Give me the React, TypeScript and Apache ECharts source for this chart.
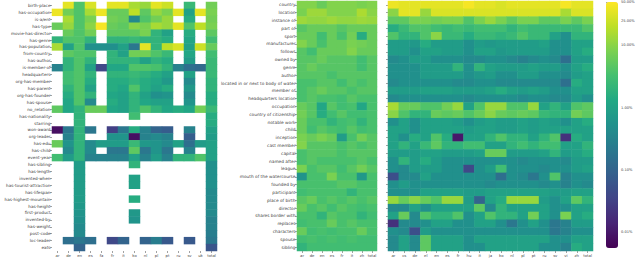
import React, { useEffect, useRef } from "react";
import * as echarts from "echarts";

// ---------- left heatmap ----------
const leftCols = ["ar","de","en","es","fa","fr","it","ko","nl","pl","pt","ru","sv","uk","total"];
const leftRows = ["birth-place","has-occupation","is-a/ent","has-type","movie-has-director","has-genre","has-population","from-country","has-author","is-member-of","headquarters","org-has-member","has-parent","org-has-founder","has-spouse","no_relation","has-nationality","starring","won-award","org-leader","has-edu","has-child","event-year","has-sibling","has-length","invented-when","has-tourist-attraction","has-lifespan","has-highest-mountain","has-height","first-product","invented-by","has-weight","post-code","loc-leader","eats"];
const _ = null;
const leftValues: (number | null)[][] = [
  [_, 35, 4, 30, _, 35, 35, 15, 12, 35, 25, _, 2.5, _, 7],
  [40, 7, 4, 15, 40, 6, 6, 20, 5, 12, 8, 35, 1, 35, 8],
  [_, 15, 4, 8, _, 7, 6, 0.4, 4, 7, 12, _, 1.5, _, 7],
  [6, 12, 4, 10, 45, 6, 5, 10, 8, 15, 12, 35, 4, 20, 8],
  [_, 6, 4, 7, _, 5, 5, 5, 8, 2, 1, _, 1.5, _, 5],
  [2, 4, 4, 2, _, 2, 2, 2.5, 2, 2, 1.5, _, 1.2, _, 3],
  [15, 1, 4, 0.5, 0.5, 0.5, 1, 0.2, 35, 2, 20, 30, 1, 25, 6],
  [_, 5, 4, 4, _, 2, 1, 7, 7, 4, 2.5, _, 1.2, _, 3],
  [_, 2, 4, 2, _, 2, 2, 2, 1, 2, 1.5, _, 0.8, _, 2.5],
  [0.3, 2, 4, 1, 0.04, 1.2, 1.2, 4, 4, 3.5, 2, 0.3, 0.15, 0.12, 2.5],
  [_, 3, 4, 2, _, 2, 2, 2.5, 2, 1.5, 1, _, 1, _, 2.5],
  [_, 3, 4, 1.5, _, 1.5, 1.5, 2, 1.5, 1.2, 0.7, _, 0.4, _, 2],
  [_, 2, 4, 1, _, 1.5, 1.2, 4, 1.5, 1, 1.5, _, 0.7, _, 2],
  [_, 1.5, 4, 2, _, 1.2, 1, 2, 1, 0.5, 0.6, _, 0.4, _, 1.5],
  [_, 1.2, 4, 0.4, _, 1.5, 1, 2, 1.2, 1, 1, _, 0.6, _, 1.5],
  [5, 1.2, 2, 6, 6, 1.2, 1, 2, 4, 2, 1.2, 1.5, 1.2, 7, 2.5],
  [_, _, 2, _, _, _, _, 3, _, _, _, _, _, _, 1.5],
  [_, _, 2, _, _, _, _, _, _, _, _, _, _, _, 1.5],
  [0.008, 0.2, 2, 0.2, _, 0.03, 0.2, 1.5, 0.3, 0.1, 0.08, _, 0.3, _, 1],
  [_, 0.3, 2, _, _, 0.6, 0.6, 0.008, 0.3, 0.4, 0.3, _, 0.08, _, 0.8],
  [6, 0.6, 2, 0.4, 0.8, 0.8, 0.8, 2.5, 0.7, 0.6, 0.4, 1, 0.15, 0.8, 1],
  [_, 0.4, 2, 0.4, _, 0.2, 0.2, 5, 0.2, 0.6, 0.2, _, 0.3, _, 1],
  [3, 0.8, 2, 0.3, 0.3, 0.3, 0.3, 1, 0.3, 0.8, 0.3, 2, 2, 4, 1],
  [_, _, 0.8, _, _, _, _, 2, _, _, _, _, _, _, 0.5],
  [_, _, 0.8, _, _, _, _, _, _, _, _, _, _, _, 0.5],
  [_, _, 0.8, _, _, _, _, 1, _, _, _, _, _, _, 0.5],
  [_, _, 0.8, _, _, _, _, 1, _, _, _, _, _, _, 0.5],
  [_, _, 0.8, _, _, _, _, _, _, _, _, _, _, _, 0.4],
  [_, _, 0.8, _, _, _, _, 1.5, _, _, _, _, _, _, 0.4],
  [_, _, 0.7, _, _, _, _, _, _, _, _, _, _, _, 0.4],
  [_, _, 0.6, _, _, _, _, 0.7, _, _, _, _, _, _, 0.4],
  [_, _, 0.5, _, _, _, _, 0.6, _, _, _, _, _, _, 0.3],
  [_, _, 0.4, _, _, _, _, _, _, _, _, _, _, _, 0.3],
  [_, _, 0.4, _, _, _, _, _, _, _, _, _, _, _, 0.25],
  [_, 0.15, 0.2, 0.15, _, 0.04, 0.1, _, 0.1, 0.25, 0.07, _, 0.07, _, 0.2],
  [_, _, 0.1, _, _, _, _, _, _, _, _, _, _, _, 0.06],
];

// ---------- shared rows of middle / right heatmaps ----------
const wikiRows = ["country","location","instance of","part of","sport","manufacturer","follows","owned by","genre","author","located in or next to body of water","member of","headquarters location","occupation","country of citizenship","notable work","child","inception","cast member","capital","named after","league","mouth of the watercourse","founded by","participant","place of birth","director","shares border with","replaces","characters","spouse","sibling"];

const midCols = ["ar","de","en","es","fr","it","zh","total"];
const midValues: number[][] = [
  [9, 9, 6, 9, 9, 9, 8, 9],
  [8, 13, 13, 9, 9, 9, 16, 10],
  [13, 11, 11, 13, 11, 11, 13, 12],
  [4.5, 6, 6, 6, 4.5, 6, 6, 6],
  [6, 6, 3, 6, 3.5, 7, 1.5, 6],
  [9, 6, 3.5, 6, 6, 8, 7, 6],
  [4.5, 3, 6, 6, 6, 9, 6, 6],
  [4.5, 4.5, 6, 4.5, 4.5, 4.5, 3, 4.5],
  [4.5, 6, 4.5, 4.5, 4.5, 4.5, 3, 4.5],
  [4.5, 4.5, 4.5, 3.5, 4.5, 4.5, 4.5, 4.5],
  [3.5, 3.5, 4.5, 4.5, 3, 4.5, 3.5, 4.5],
  [3.5, 4.5, 6, 4.5, 4.5, 3.5, 4.5, 4.5],
  [3.5, 4.5, 3.5, 3.5, 3, 4.5, 3.5, 3.5],
  [6, 4.5, 1.2, 4.5, 3, 3.5, 1.2, 3.5],
  [7, 4.5, 1.5, 3, 4.5, 3, 3, 3.5],
  [6, 3.5, 3.5, 2, 3, 3.5, 2, 3.5],
  [6, 3, 4.5, 3.5, 3, 4.5, 3, 3.5],
  [8, 6, 8, 6, 0.8, 3.5, 7, 4.5],
  [9, 4.5, 4.5, 4.5, 3.5, 4.5, 3.5, 4.5],
  [3.5, 4.5, 4.5, 4.5, 3.5, 4.5, 4.5, 4.5],
  [3.5, 4.5, 3.5, 3.5, 3.5, 3.5, 4.5, 3.5],
  [8, 3.5, 4.5, 4.5, 3, 4.5, 7, 4.5],
  [0.6, 3.5, 3.5, 8, 3.5, 3.5, 0.7, 3.5],
  [3.5, 3.5, 3.5, 3.5, 4.5, 4.5, 3.5, 3.5],
  [3, 3.5, 3.5, 3.5, 3.5, 2, 3.5, 3.5],
  [4.5, 6, 3.5, 4.5, 3.5, 4.5, 3.5, 4.5],
  [6, 3.5, 4.5, 3, 4.5, 3.5, 3, 3.5],
  [3.5, 3.5, 2, 4.5, 3.5, 3.5, 2, 3],
  [3, 3.5, 3.5, 6, 3.5, 4.5, 3.5, 3.5],
  [6, 3, 3.5, 3, 3.5, 3.5, 6, 3.5],
  [3, 3.5, 3, 3.5, 3, 3.5, 3, 3],
  [2, 3, 3, 3, 3, 3, 3, 3],
];

const rightCols = ["ar","cs","de","el","en","es","fr","hu","it","ja","ko","nl","pl","pt","ru","sv","vi","zh","total"];
const rightValues: number[][] = [
  [40, 35, 35, 35, 35, 35, 35, 45, 35, 35, 30, 35, 35, 35, 35, 35, 45, 35, 35],
  [10, 35, 35, 12, 30, 30, 30, 30, 30, 30, 30, 30, 30, 30, 30, 30, 15, 30, 30],
  [5, 5, 8, 8, 7, 8, 8, 4, 8, 12, 8, 5, 8, 8, 5, 5, 8, 5, 8],
  [1.5, 2.5, 4, 4, 3, 2.5, 3, 2.5, 3, 3, 3, 2, 3, 2.5, 2.5, 2.5, 2.5, 2.5, 4],
  [4, 2, 2, 4, 10, 2.5, 2.5, 1.5, 2.5, 2.5, 2, 2.5, 4, 2.5, 2.5, 1, 0.5, 2, 2],
  [0.8, 0.8, 0.7, 1.5, 0.8, 0.8, 0.8, 0.5, 0.8, 0.7, 0.8, 0.8, 0.8, 0.8, 1, 0.5, 0.5, 1, 1],
  [0.8, 0.8, 0.5, 1, 1, 0.8, 0.8, 0.5, 1, 1, 0.7, 0.8, 0.8, 0.8, 0.8, 0.5, 0.5, 1, 1.5],
  [0.4, 0.5, 0.8, 0.8, 0.5, 0.5, 0.5, 0.4, 0.4, 0.5, 0.5, 0.4, 0.3, 0.4, 0.5, 0.4, 0.15, 0.8, 0.8],
  [0.5, 0.5, 0.5, 0.8, 0.8, 0.8, 2, 0.5, 2, 1, 0.8, 0.8, 0.8, 1, 0.8, 0.8, 0.5, 1, 1.5],
  [0.5, 0.5, 0.5, 0.8, 0.8, 0.8, 0.8, 0.5, 0.7, 0.8, 0.5, 0.5, 0.8, 0.8, 0.5, 0.5, 0.4, 0.8, 1],
  [0.4, 0.5, 0.5, 0.5, 0.5, 0.5, 0.4, 0.4, 0.5, 0.5, 0.4, 0.4, 0.4, 0.4, 0.4, 0.4, 0.15, 1.5, 1],
  [0.8, 0.8, 0.8, 1, 1, 1, 0.8, 0.8, 0.8, 1, 1.5, 1, 0.8, 1, 0.8, 0.5, 0.5, 1, 1],
  [0.4, 0.5, 0.5, 0.5, 0.5, 0.5, 0.5, 0.4, 0.5, 0.5, 0.5, 0.5, 0.4, 0.5, 0.5, 0.4, 0.4, 0.8, 0.5],
  [15, 6, 6, 4, 4, 7, 12, 1, 4, 12, 12, 4, 4, 12, 1, 2, 1, 4, 5],
  [10, 4, 2, 2, 6, 5, 6, 4, 6, 10, 6, 5, 6, 5, 2.5, 2, 2, 7, 5],
  [0.5, 1, 0.5, 1, 1, 1, 0.8, 0.5, 0.8, 1, 0.8, 0.8, 1, 0.8, 1, 0.8, 0.5, 1, 1.5],
  [1, 1, 0.5, 1, 1, 1, 1, 0.8, 1, 1, 0.8, 0.8, 1, 0.8, 1, 1, 1, 1, 1],
  [1, 0.5, 1.5, 1, 4, 1.5, 0.01, 1, 1, 2, 4, 2, 2, 1, 2, 4, 0.02, 1.5, 1],
  [1, 2, 1, 2.5, 5, 2, 2, 3, 3, 1, 1, 2, 3, 2, 3, 3, 1, 1, 2],
  [0.8, 0.8, 0.8, 1, 1, 0.8, 0.8, 0.8, 1, 6, 6, 0.8, 0.8, 0.8, 1, 2, 0.8, 1, 1.5],
  [0.5, 2, 0.8, 1.5, 0.8, 0.5, 0.5, 0.5, 0.5, 0.5, 0.5, 0.5, 0.4, 0.5, 0.5, 0.5, 0.4, 0.8, 0.8],
  [0.5, 0.4, 0.8, 0.8, 0.8, 0.5, 0.5, 0.04, 0.5, 0.8, 3, 0.5, 0.5, 0.5, 0.4, 0.5, 0.5, 0.8, 1],
  [0.05, 0.4, 0.4, 1, 0.5, 0.5, 0.5, 0.5, 0.5, 0.5, 0.15, 0.5, 0.4, 0.2, 0.5, 4, 0.3, 0.5, 0.5],
  [0.5, 0.8, 0.5, 0.5, 0.5, 0.5, 0.5, 0.5, 0.5, 0.4, 0.5, 0.5, 0.5, 0.5, 0.4, 0.5, 0.3, 0.5, 0.4],
  [0.5, 0.5, 0.5, 1, 1, 1, 1, 0.8, 0.8, 1, 1, 1, 1, 1, 1, 0.8, 0.8, 1, 1],
  [12, 6, 10, 6, 4, 12, 12, 0.8, 0.1, 1, 1.5, 12, 12, 12, 0.8, 0.5, 1, 5, 2],
  [0.4, 0.4, 1, 0.5, 1, 1, 1, 1, 5, 0.4, 2, 1, 1, 1, 1, 0.5, 0.5, 1, 1],
  [1, 6, 0.4, 4, 2, 2, 4, 0.5, 1, 4, 2, 2, 1, 7, 1, 0.5, 8, 1, 1.5],
  [0.02, 0.4, 0.4, 0.5, 1, 1, 0.5, 0.5, 1, 1, 0.5, 0.2, 0.5, 1, 0.5, 0.2, 0.3, 0.8, 0.8],
  [0.5, 0.4, 0.05, 0.8, 0.5, 0.5, 0.5, 0.5, 0.5, 0.5, 0.5, 0.5, 0.5, 0.5, 0.5, 0.2, 0.3, 0.5, 0.5],
  [0.4, 1, 0.4, 5, 1, 1, 1, 0.5, 1, 1, 1, 1, 1, 1, 1, 0.5, 0.5, 1, 1],
  [0.4, 1, 0.4, 5, 1, 1, 1, 0.5, 0.5, 1, 1, 1, 1, 1, 0.5, 0.5, 0.3, 1.5, 1],
];

// ---------- colour bar ----------
const colorMin = 0.0055; // percent
const colorMax = 50;
const colorbarLabels = [0.01, 0.1, 1, 10, 25, 50];
const colorbarTicks = [0.006, 0.007, 0.008, 0.009, 0.01, 0.02, 0.03, 0.04, 0.05, 0.06, 0.07, 0.08, 0.09, 0.1, 0.2, 0.3, 0.4, 0.5, 0.6, 0.7, 0.8, 0.9, 1, 2, 3, 4, 5, 6, 7, 8, 9, 10, 20, 30, 40, 50];
const viridis = ["#440154","#482475","#414487","#355f8d","#2a788e","#21918c","#22a884","#44bf70","#7ad151","#bddf26","#fde725"];

const FONT = "DejaVu Sans";
const TXT = "#444444";

function toCells(values: (number | null)[][]) {
  const out: [number, number, number][] = [];
  values.forEach((row, y) =>
    row.forEach((v, x) => {
      if (v !== null && v !== undefined) out.push([x, y, Math.log10(v)]);
    })
  );
  return out;
}

function catX(data: string[], gridIndex: number) {
  return {
    type: "category", data, gridIndex,
    axisLine: { show: false },
    axisTick: { show: true, alignWithLabel: true, length: 2, lineStyle: { color: TXT, width: 0.5 } },
    axisLabel: { fontSize: 3.8, margin: 2.5, color: TXT, fontFamily: FONT, interval: 0 },
    splitLine: { show: false },
  };
}
function catY(data: string[], gridIndex: number, showLabel: boolean, fontSize: number) {
  return {
    type: "category", data, gridIndex, inverse: true,
    axisLine: { show: false },
    axisTick: { show: true, alignWithLabel: true, length: 2, lineStyle: { color: TXT, width: 0.5 } },
    axisLabel: { show: showLabel, fontSize, margin: 1.5, color: TXT, fontFamily: FONT, interval: 0 },
    splitLine: { show: false },
  };
}

export default function App() {
  const ref = useRef<HTMLDivElement>(null);
  useEffect(() => {
    if (!ref.current) return;
    const chart = echarts.init(ref.current, undefined, { renderer: "svg" });
    const lmin = Math.log10(colorMin);
    const lmax = Math.log10(colorMax);
    const heat = (xi: number, data: any) => ({
      type: "heatmap", xAxisIndex: xi, yAxisIndex: xi, data,
      itemStyle: { borderWidth: 0 },
      emphasis: { disabled: true },
      progressive: 0,
    });
    chart.setOption({
      animation: false,
      backgroundColor: "#ffffff",
      grid: [
        { left: 52, top: 2, width: 165, height: 249 },
        { left: 297, top: 1, width: 80, height: 250 },
        { left: 388, top: 1, width: 205, height: 250 },
        { left: 606, top: 2, width: 12, height: 246 },
      ],
      xAxis: [
        catX(leftCols, 0),
        catX(midCols, 1),
        catX(rightCols, 2),
        { type: "value", gridIndex: 3, show: false, min: 0, max: 1 },
      ],
      yAxis: [
        catY(leftRows, 0, true, 4.2),
        catY(wikiRows, 1, true, 4.3),
        catY(wikiRows, 2, false, 4.3),
        {
          type: "value", gridIndex: 3, position: "right", min: lmin, max: lmax,
          axisLine: { show: false },
          splitLine: { show: false },
          axisTick: { show: true, length: 1.6, lineStyle: { color: TXT, width: 0.5 }, customValues: colorbarTicks.map((v) => Math.log10(v)) },
          axisLabel: {
            fontSize: 3.6, margin: 3, color: TXT, fontFamily: FONT,
            customValues: colorbarLabels.map((v) => Math.log10(v)),
            formatter: (v: number) => Math.pow(10, v).toFixed(2) + "%",
          },
        },
      ],
      visualMap: {
        type: "continuous", min: lmin, max: lmax, seriesIndex: [0, 1, 2],
        dimension: 2,
        left: 606, top: 2, itemWidth: 12, itemHeight: 246, padding: 0,
        calculable: false, hoverLink: false, text: null,
        inRange: { color: viridis },
      },
      series: [heat(0, toCells(leftValues)), heat(1, toCells(midValues)), heat(2, toCells(rightValues))],
    });
    return () => chart.dispose();
  }, []);
  return <div ref={ref} style={{ position: "absolute", left: 0, top: 0, width: 640, height: 277 }} />;
}
